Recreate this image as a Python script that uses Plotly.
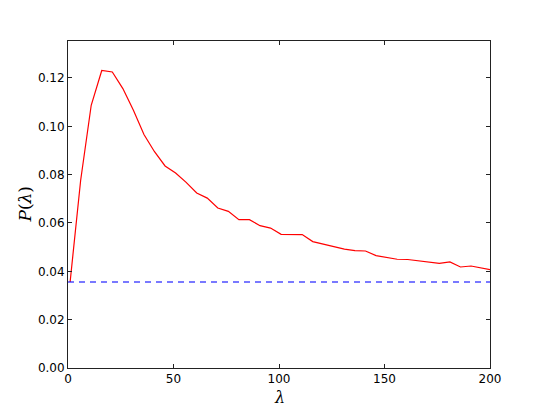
import plotly.graph_objects as go
import numpy as np

# lambda values and P(lambda)
lam = [1, 6, 11, 16, 21, 26, 31, 36, 41, 46, 51, 56, 61, 66, 71, 76, 81, 86, 91, 96,
       101, 106, 111, 116, 121, 126, 131, 136, 141, 146, 151, 156, 161, 166, 171, 176,
       181, 186, 191, 196, 201]
p_lam = [0.0356, 0.0777, 0.1087, 0.1231, 0.1225, 0.1156, 0.1066, 0.0966, 0.0895, 0.0836,
         0.0807, 0.0768, 0.0724, 0.0703, 0.0662, 0.0648, 0.0614, 0.0614, 0.0589, 0.0579,
         0.0553, 0.0554, 0.0552, 0.0523, 0.0512, 0.0501, 0.0492, 0.0486, 0.0484, 0.0465,
         0.0457, 0.0450, 0.0449, 0.0443, 0.0437, 0.0433, 0.0439, 0.0418, 0.0422, 0.0413,
         0.0405]
baseline = 0.0356
x_lim = [0, 200]

fig = go.Figure()
fig.add_trace(go.Scatter(x=lam, y=p_lam, mode="lines",
                         line=dict(color="#ff0000", width=1.2)))
fig.add_trace(go.Scatter(x=x_lim, y=[baseline, baseline], mode="lines",
                         line=dict(color="rgba(0,0,255,0.7)", width=1.5, dash="6px,5px")))

axis_common = dict(showline=True, linecolor="#222", linewidth=1, mirror="ticks",
                   ticks="inside", ticklen=4, tickcolor="#222", showgrid=False,
                   zeroline=False, tickfont=dict(family="DejaVu Sans", size=12, color="black"))

label_font = dict(family="DejaVu Serif", size=17, color="black")

# page body has an 8px margin, so the figure is a bit smaller than the window
fig.update_layout(
    width=537, height=401,
    margin=dict(l=60, r=55, t=33, b=41),
    paper_bgcolor="white", plot_bgcolor="white",
    showlegend=False,
    xaxis=dict(range=x_lim, dtick=50, tick0=0, **axis_common),
    yaxis=dict(range=[0, 0.1353], dtick=0.02, tick0=0, tickformat=".2f", **axis_common),
    annotations=[
        dict(text="<i>λ</i>", x=0.5, y=0, xref="paper", yref="paper",
             xanchor="center", yanchor="top", yshift=-18, showarrow=False,
             font=dict(label_font, size=16)),
        dict(text="<i>P</i>(<i>λ</i>)", x=0, y=0.5, xref="paper", yref="paper",
             xanchor="center", yanchor="middle", xshift=-44, textangle=-90,
             showarrow=False, font=label_font),
    ],
)

fig.write_html("out.html")
